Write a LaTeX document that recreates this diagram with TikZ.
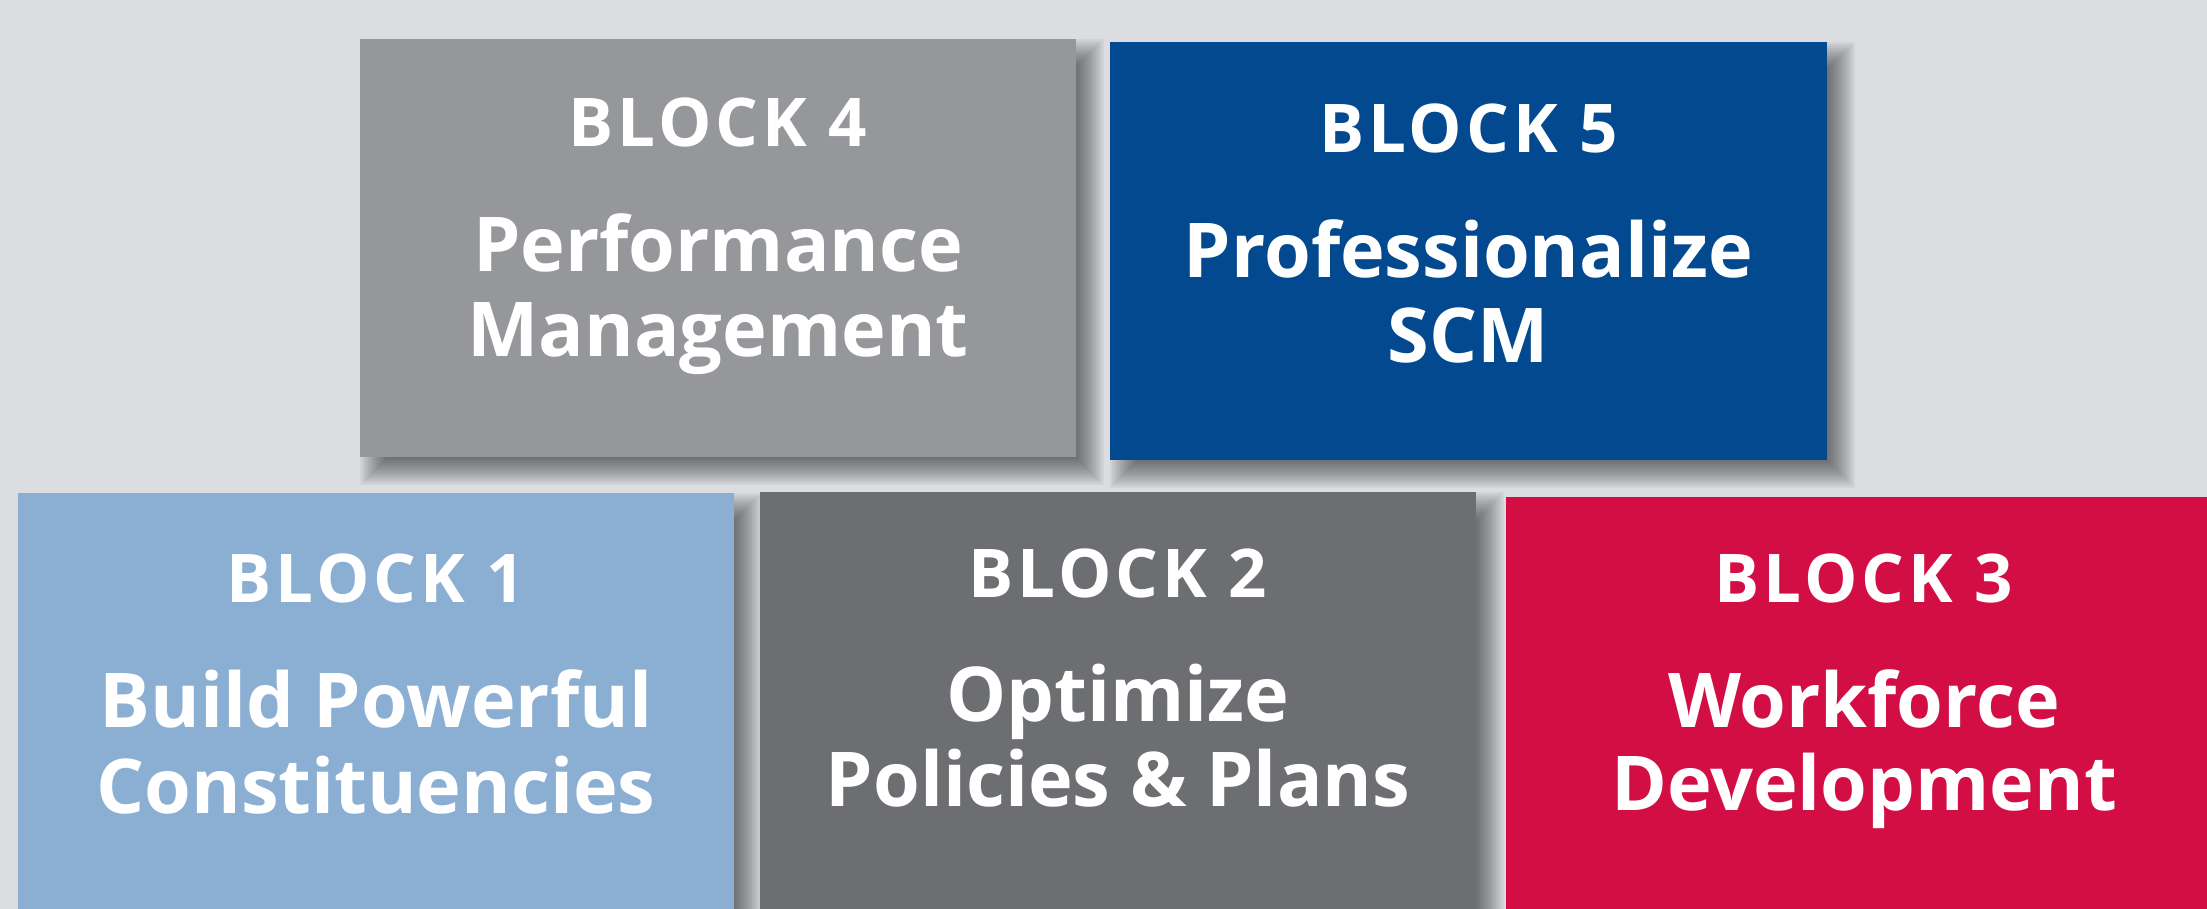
\documentclass[tikz,border=0pt]{standalone}
\usepackage{fontspec}
\setmainfont{Open Sans}
\newfontfamily\blockfont{Open Sans}[LetterSpace=6]
\definecolor{bgc}{HTML}{DCDDE0}
\definecolor{cfour}{HTML}{96979B}
\definecolor{cfive}{HTML}{02498F}
\definecolor{cone}{HTML}{8BAED3}
\definecolor{ctwo}{HTML}{6D6E72}
\definecolor{cthree}{HTML}{D20E45}
\newcommand\softshadow[1]{%
  \foreach \d [evaluate=\d as \a using 7-\d, evaluate=\d as \b using 7+\d] in {7,6,...,-6}
    \fill[black,opacity=0.045] ([shift={(\a pt,-\a pt)}]#1.north west) rectangle ([shift={(\b pt,-\b pt)}]#1.south east);%
}
\tikzset{
  blockbox/.style={rectangle, inner sep=0pt, draw=none, minimum width=358pt, minimum height=209pt},
  headlbl/.style={anchor=base, text=white, inner sep=0pt, font=\blockfont\bfseries\fontsize{33.6}{40}\selectfont},
  titlelbl/.style={anchor=base, text=white, inner sep=0pt, font=\bfseries\fontsize{37.8}{45}\selectfont}
}
\begin{document}
\begin{tikzpicture}[x=0.5pt,y=-0.5pt]
\useasboundingbox (0,0) rectangle (2207,909);
\fill[bgc] (0,0) rectangle (2207,909);
\clip (0,0) rectangle (2207,909);
% boxes (invisible first to get anchors)
\path node[blockbox] (b4) at (718,248) {}
      node[blockbox] (b5) at (1468.5,251) {}
      node[blockbox] (b1) at (376,702) {}
      node[blockbox] (b2) at (1118,701) {}
      node[blockbox] (b3) at (1864,706) {};
% shadows
\softshadow{b4}
\softshadow{b5}
\softshadow{b1}
\softshadow{b2}
\softshadow{b3}
% filled boxes
\fill[cfour] (b4.north west) rectangle (b4.south east);
\fill[cfive] (b5.north west) rectangle (b5.south east);
\fill[cone] (b1.north west) rectangle (b1.south east);
\fill[ctwo] (b2.north west) rectangle (b2.south east);
\fill[cthree] (b3.north west) rectangle (b3.south east);
% texts
\node[headlbl] (t4a) at (718,147) {BLOCK 4};
\node[titlelbl] (t4b) at (718,272) {Performance};
\node[titlelbl] (t4c) at (718,357) {Management};
\node[headlbl] (t5a) at (1468.5,153) {BLOCK 5};
\node[titlelbl] (t5b) at (1468.5,278) {Professionalize};
\node[titlelbl] (t5c) at (1468.5,363) {SCM};
\node[headlbl] (t1a) at (376,602) {BLOCK 1};
\node[titlelbl] (t1b) at (376,727) {Build Powerful};
\node[titlelbl] (t1c) at (376,813) {Constituencies};
\node[headlbl] (t2a) at (1118,597) {BLOCK 2};
\node[titlelbl] (t2b) at (1118,721) {Optimize};
\node[titlelbl] (t2c) at (1118,806) {Policies \& Plans};
\node[headlbl] (t3a) at (1864,602) {BLOCK 3};
\node[titlelbl] (t3b) at (1864,727) {Workforce};
\node[titlelbl] (t3c) at (1864,810) {Development};
\end{tikzpicture}
\end{document}
